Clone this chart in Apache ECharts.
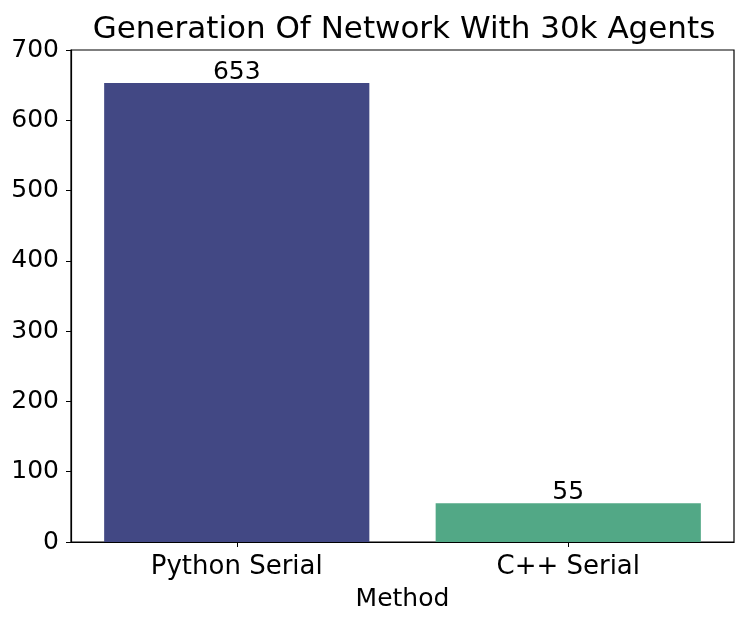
<!DOCTYPE html>
<html><head><meta charset="utf-8">
<script src="https://cdn.jsdelivr.net/npm/echarts@6/dist/echarts.min.js"></script>
<style>html,body{margin:0;padding:0;background:#fff}#c{width:746px;height:624px}</style>
</head><body><div id="c"></div>
<script>
const categories = ['Python Serial', 'C++ Serial'];
const values = [653, 55];
const barColors = ['#424884', '#52a886'];
const yTicks = [0, 100, 200, 300, 400, 500, 600, 700];

const chart = echarts.init(document.getElementById('c'), null, {renderer: 'canvas'});
const font = 'DejaVu Sans';
chart.setOption({
  animation: false,
  title: {text: 'Generation Of Network With 30k Agents', left: 399, textAlign: 'center', top: 9,
    textStyle: {fontFamily: font, fontSize: 31, fontWeight: 'normal', color: '#000'}},
  grid: {left: 71, right: 12, top: 50, bottom: 82, show: true, borderColor: '#000', borderWidth: 1.2, backgroundColor: 'transparent'},
  xAxis: {type: 'category', data: categories, name: 'Method', nameLocation: 'middle', nameGap: 45,
    nameTextStyle: {fontFamily: font, fontSize: 25, color: '#000'},
    axisLine: {lineStyle: {color: '#000', width: 1.2}},
    axisTick: {show: true, alignWithLabel: true, length: 5, lineStyle: {color: '#000'}},
    axisLabel: {fontFamily: font, fontSize: 26, color: '#000', margin: 12}},
  yAxis: {type: 'value', min: yTicks[0], max: yTicks[yTicks.length-1], interval: 100,
    splitLine: {show: false},
    axisLine: {show: true, lineStyle: {color: '#000', width: 1.2}},
    axisTick: {show: true, length: 5, lineStyle: {color: '#000'}},
    axisLabel: {fontFamily: font, fontSize: 25, color: '#000', margin: 12}},
  series: [{type: 'bar', barCategoryGap: '20%',
    data: values.map((v, i) => ({value: v, itemStyle: {color: barColors[i]}})),
    label: {show: true, position: 'top', distance: -2, fontFamily: font, fontSize: 25, color: '#000'}}]
});
</script></body></html>
